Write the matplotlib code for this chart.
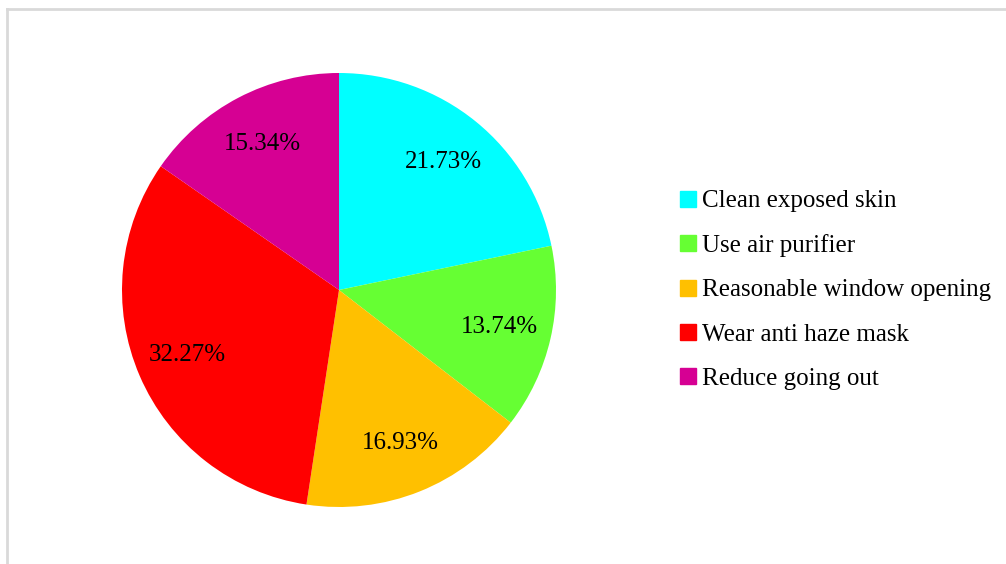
import matplotlib.pyplot as plt
from matplotlib.lines import Line2D

labels = ["Clean exposed skin", "Use air purifier", "Reasonable window opening",
          "Wear anti haze mask", "Reduce going out"]
shares = [21.73, 13.74, 16.93, 32.27, 15.34]
colors = ["#00FFFF", "#66FF33", "#FFC000", "#FF0000", "#D60093"]

plt.rcParams['font.family'] = ['Liberation Serif', 'DejaVu Serif']

W, H = 1006, 564
fig = plt.figure(figsize=(W / 100, H / 100), dpi=100)

# pie centred at (339, 290) px with radius 217 px
cx, cy, r = 339, 290, 217
ax = fig.add_axes([(cx - r) / W, (H - cy - r) / H, 2 * r / W, 2 * r / H])
wedges, texts, autotexts = ax.pie(
    shares, colors=colors, startangle=90, counterclock=False,
    autopct=lambda p: f"{p:.2f}%", pctdistance=0.76,
    wedgeprops=dict(linewidth=0),
    textprops=dict(fontsize=18, color="black"))
ax.set_xlim(-1, 1)
ax.set_ylim(-1, 1)
ax.set_aspect("auto")
ax.axis("off")

handles = [Line2D([], [], marker="s", linestyle="none", markersize=11,
                  markerfacecolor=c, markeredgecolor=c) for c in colors]
fig.legend(handles, labels, loc="upper left",
           bbox_to_anchor=(678 / W, 1 - 190 / H), frameon=False,
           fontsize=18, handlelength=0.8, handletextpad=0.15,
           labelspacing=0.87, borderpad=0, borderaxespad=0)

# light frame along the top and left edges
fig.add_artist(Line2D([7 / W, 1], [1 - 9 / H, 1 - 9 / H], color="#d9d9d9",
                      linewidth=2, transform=fig.transFigure))
fig.add_artist(Line2D([7 / W, 7 / W], [0, 1 - 9 / H], color="#d9d9d9",
                      linewidth=2, transform=fig.transFigure))

fig.savefig("out.png", dpi=100, facecolor="white")
